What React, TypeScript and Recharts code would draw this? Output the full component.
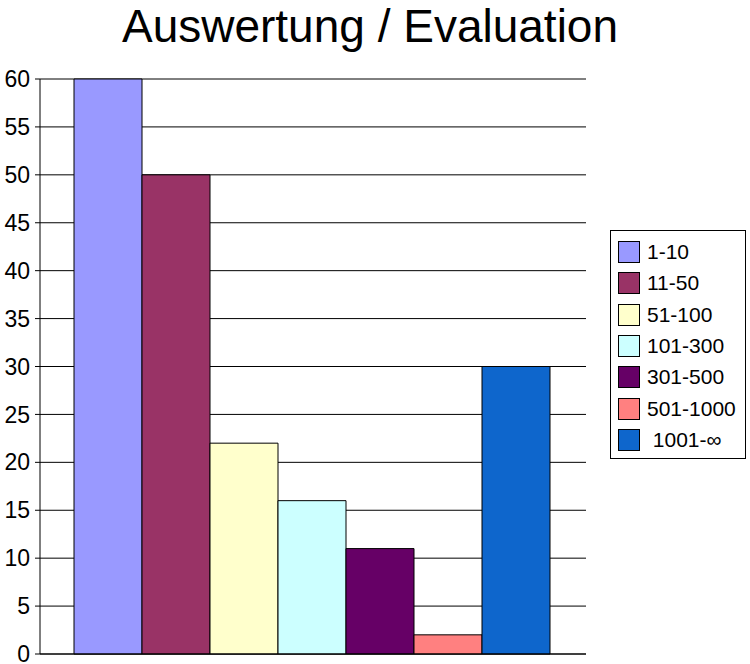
import { BarChart, Bar, XAxis, YAxis, CartesianGrid } from 'recharts';

const categories = ['1-10', '11-50', '51-100', '101-300', '301-500', '501-1000', ' 1001-∞'];
const values = [60, 50, 22, 16, 11, 2, 30];
const colors = ['#9999ff', '#993366', '#ffffcc', '#ccffff', '#660066', '#ff8080', '#0e66cc'];
const yTicks = [0, 5, 10, 15, 20, 25, 30, 35, 40, 45, 50, 55, 60];

const keys = categories.map((_, i) => `s${i}`);
const row: Record<string, number | string> = { name: '' };
keys.forEach((k, i) => { row[k] = values[i]; });
const data = [row];

const FONT = '"Liberation Sans", Arial, sans-serif';

// legend box drawn beside the chart, same look as the original office chart
const BoxLegend = () => (
  <div style={{ position: 'absolute', left: 610, top: 230, width: 134, height: 227, border: '1px solid #000', background: '#fff' }}>
    {categories.map((c, i) => (
      <div key={c} style={{ position: 'absolute', left: 7, top: 10 + i * 31.3, height: 22, display: 'flex', alignItems: 'center' }}>
        <div style={{ width: 20, height: 20, background: colors[i], border: '1px solid #000' }} />
        <span style={{ marginLeft: 7, fontSize: 21, lineHeight: '22px', color: '#000', whiteSpace: 'pre' }}>{c}</span>
      </div>
    ))}
  </div>
);

export default function App() {
  return (
    <div style={{ position: 'absolute', left: 0, top: 0, width: 750, height: 664, background: '#fff', fontFamily: FONT }}>
      <div style={{ position: 'absolute', left: 0, top: 2, width: 740, textAlign: 'center', fontSize: 46, lineHeight: '48px', color: '#000' }}>
        Auswertung / Evaluation
      </div>
      <BarChart width={750} height={664} data={data} margin={{ top: 79, right: 164, bottom: 4, left: 0 }}
        barCategoryGap={34} barGap={0}>
        <CartesianGrid vertical={false} stroke="#000" strokeOpacity={1} />
        <XAxis dataKey="name" tick={false} tickLine={false} axisLine={{ stroke: '#000' }} height={6} />
        <YAxis width={40} domain={[0, 60]} ticks={yTicks} interval={0} tickSize={5} tickMargin={5}
          axisLine={{ stroke: '#000' }} tickLine={{ stroke: '#000' }}
          tick={{ fontSize: 23, fill: '#000', fontFamily: FONT }} />
        {keys.map((k, i) => (
          <Bar key={k} dataKey={k} fill={colors[i]} stroke="#000" strokeWidth={1} isAnimationActive={false} />
        ))}
      </BarChart>
      <BoxLegend />
    </div>
  );
}
